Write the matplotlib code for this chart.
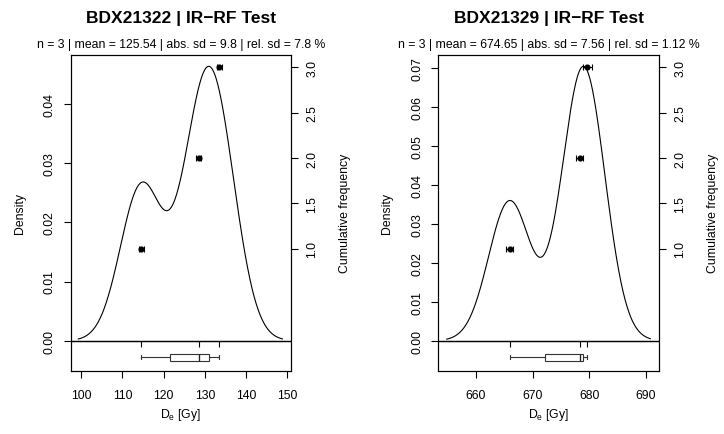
import numpy as np
import matplotlib
matplotlib.use("Agg")
import matplotlib.pyplot as plt

plt.rcParams['font.family'] = ['Liberation Sans', 'DejaVu Sans']

# ---- data ----
titles = ["BDX21322 | IR\u2212RF Test", "BDX21329 | IR\u2212RF Test"]
subtitles = ["n = 3 | mean = 125.54 | abs. sd = 9.8 | rel. sd = 7.8 %",
             "n = 3 | mean = 674.65 | abs. sd = 7.56 | rel. sd = 1.12 %"]
de_1 = [114.6, 128.5, 133.52]
err_1 = [0.55, 0.55, 0.55]
de_2 = [665.95, 678.3, 679.7]
err_2 = [0.6, 0.7, 0.8]
xticks_1 = [100, 110, 120, 130, 140, 150]
xticks_2 = [660, 670, 680, 690]
dens_ticks_1 = [0.00, 0.01, 0.02, 0.03, 0.04]
dens_ticks_2 = [0.00, 0.01, 0.02, 0.03, 0.04, 0.05, 0.06, 0.07]
cum_ticks = [1.0, 1.5, 2.0, 2.5, 3.0]
xlims = [(97.45, 150.9), (653.34, 692.35)]

panels = [
    dict(de=de_1, err=err_1, xticks=xticks_1, dticks=dens_ticks_1,
         title=titles[0], sub=subtitles[0], xlim=xlims[0]),
    dict(de=de_2, err=err_2, xticks=xticks_2, dticks=dens_ticks_2,
         title=titles[1], sub=subtitles[1], xlim=xlims[1]),
]

W, H = 724, 435
fig = plt.figure(figsize=(W / 100, H / 100), dpi=100)
axes_px = [(70.7, 291.0), (438.3, 659.0)]
top_px, bot_px = 56.0, 371.7

FS = 8.8
LW = 0.8
for p, (x0, x1) in zip(panels, axes_px):
    ax = fig.add_axes([x0 / W, (H - bot_px) / H, (x1 - x0) / W, (bot_px - top_px) / H])
    vals = np.sort(np.asarray(p['de'], dtype=float))
    n = len(vals)
    q1, q3 = np.percentile(vals, [25, 75])
    bw = 0.9 * min(np.std(vals, ddof=1), (q3 - q1) / 1.34) * n ** (-0.2)
    grid = np.linspace(vals.min() - 3 * bw, vals.max() + 3 * bw, 512)
    dens = np.exp(-0.5 * ((grid[:, None] - vals[None, :]) / bw) ** 2).sum(axis=1) / (n * bw * np.sqrt(2 * np.pi))
    peak = dens.max()

    ax.plot(grid, dens, color='black', lw=LW)
    ax.axhline(0, color='black', lw=LW * 1.3)
    ax.plot(vals, np.zeros(n), linestyle='none', marker=3, markersize=4,
            markeredgewidth=LW, color='black')

    ypos = -0.06 * peak
    ax.boxplot(vals, orientation='horizontal', positions=[ypos],
               widths=0.026 * peak, capwidths=0.014 * peak,
               manage_ticks=False, showfliers=False, patch_artist=True,
               boxprops=dict(facecolor='white', edgecolor='#333333', lw=LW),
               medianprops=dict(color='#222222', lw=LW * 1.2),
               whiskerprops=dict(color='#333333', lw=LW),
               capprops=dict(color='#333333', lw=LW))

    ax.set_xlim(*p['xlim'])
    ax.set_ylim(-0.1093 * peak, 1.0412 * peak)
    ax.set_xticks(p['xticks'])
    ax.set_yticks(p['dticks'])
    ax.set_yticklabels([f"{t:.2f}" for t in p['dticks']])
    ax.tick_params(direction='out', length=5, width=LW, labelsize=FS, color='black')
    ax.tick_params(axis='x', pad=8.5)
    ax.tick_params(axis='y', pad=6, labelrotation=90)
    for lab in ax.get_yticklabels():
        lab.set_va('center')
    for s in ax.spines.values():
        s.set_linewidth(LW)
    ax.set_xlabel("D$_\\mathregular{e}$ [Gy]", fontsize=FS)
    ax.xaxis.label.set_va('center')
    ax.xaxis.set_label_coords(0.5, -0.137)
    ax.set_ylabel("Density", fontsize=FS)
    ax.yaxis.label.set_va('center')
    ax.yaxis.set_label_coords(-0.232, 0.5)

    ax2 = ax.twinx()
    cum = np.arange(1, n + 1)
    order = np.argsort(p['de'])
    errs = np.asarray(p['err'])[order]
    ax2.errorbar(vals, cum, xerr=errs, fmt='o', color='black', ms=3.4,
                 elinewidth=LW, capsize=2, capthick=LW)
    ax2.set_ylim(-0.345, 3.136)
    ax2.set_yticks(cum_ticks)
    ax2.set_yticklabels([f"{t:.1f}" for t in cum_ticks])
    ax2.tick_params(direction='out', length=5, width=LW, labelsize=FS, pad=6,
                    labelrotation=90)
    for lab in ax2.get_yticklabels():
        lab.set_va('center')
    for s in ax2.spines.values():
        s.set_linewidth(LW)
    ax2.set_ylabel("Cumulative frequency", fontsize=FS)
    ax2.yaxis.label.set_va('center')
    ax2.yaxis.set_label_coords(1.245, 0.5)

    ax.text(0.5, 1.1188, p['title'], transform=ax.transAxes, ha='center',
            va='center', fontsize=12.5, fontweight='bold')
    ax.text(0.5, 1.0348, p['sub'], transform=ax.transAxes, ha='center',
            va='center', fontsize=FS)

fig.savefig("out.png", dpi=100)
